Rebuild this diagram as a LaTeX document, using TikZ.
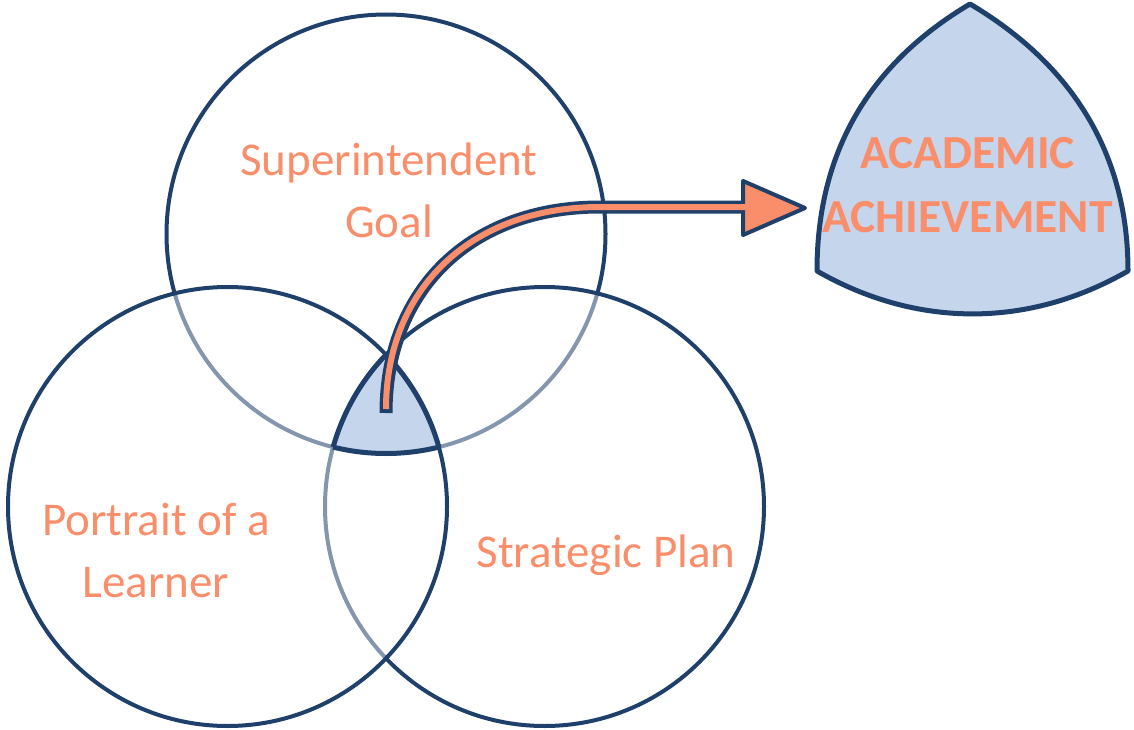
\documentclass[tikz,border=0pt]{standalone}
\usepackage{fontspec}
\setmainfont{Carlito}
\definecolor{navy}{RGB}{32,64,108}
\definecolor{salmon}{RGB}{250,142,106}
\definecolor{paleblue}{RGB}{197,214,236}
\tikzset{
  ring/.style={draw=navy, line width=4pt, circle, minimum size=439pt, inner sep=0pt},
  veil/.style={fill=white, fill opacity=0.45},
  lbl/.style={text=salmon, font=\fontsize{47}{62}\selectfont, align=center, anchor=base, inner sep=0pt},
  bigl/.style={text=salmon, font=\fontsize{47.5}{64}\selectfont\bfseries, align=center, anchor=base, inner sep=0pt},
  rim/.style={draw=navy, line width=5pt, line join=round},
}
\begin{document}
\begin{tikzpicture}[x=1pt,y=-1pt]
\useasboundingbox (0,0) rectangle (1134,730);
\fill[white] (0,0) rectangle (1134,730);

% circles (layered: goal lowest, portrait on top)
\node[ring] (goal) at (386,234) {};
\node[ring, veil] (plan) at (544.5,506.5) {};
\node[ring, veil] (portrait) at (227.5,506.5) {};

% triple intersection
\begin{scope}
  \clip (portrait.center) circle[radius=219.5pt];
  \clip (plan.center) circle[radius=219.5pt];
  \fill[paleblue] (goal.center) circle[radius=219.5pt];
  \draw[navy, line width=5pt] (goal.center) circle[radius=219.5pt];
\end{scope}
\begin{scope}
  \clip (goal.center) circle[radius=219.5pt];
  \clip (portrait.center) circle[radius=219.5pt];
  \draw[navy, line width=5pt] (plan.center) circle[radius=219.5pt];
\end{scope}
\begin{scope}
  \clip (goal.center) circle[radius=219.5pt];
  \clip (plan.center) circle[radius=219.5pt];
  \draw[navy, line width=5pt] (portrait.center) circle[radius=219.5pt];
\end{scope}

% academic achievement shape
\coordinate (aT) at (970,4);
\coordinate (aL) at (817,271);
\coordinate (aR) at (1128,271);
\filldraw[fill=paleblue, rim] (aT) .. controls (868.4,64.2) and (817,153) .. (aL)
  .. controls (916.7,328.2) and (1028.3,328.2) .. (aR)
  .. controls (1128,153) and (1071.6,64.2) .. cycle;
\node[bigl] (ach) at (967.5,232) {ACADEMIC\\ACHIEVEMENT};

% arrow
\coordinate (start) at (386,413);
\coordinate (bend) at (600,207);
\coordinate (neck) at (745,207);
\coordinate (tip) at (805,208);
\draw[navy, line width=13pt] (start) .. controls (386,290) and (470,207) .. (bend) -- (neck);
\filldraw[fill=salmon, draw=navy, line width=4pt, line join=round]
  (743,181) -- (tip) -- (743,235) -- cycle;
\draw[salmon, line width=6pt, shorten <=4pt] (start) .. controls (386,290) and (470,207) .. (bend) -- (750,207);

% labels
\node[lbl] (lgoal) at (389,237) {Superintendent\\Goal};
\node[lbl] (lport) at (156,597) {Portrait of a\\Learner};
\node[lbl] (lplan) at (606,567) {Strategic Plan};
\end{tikzpicture}
\end{document}
